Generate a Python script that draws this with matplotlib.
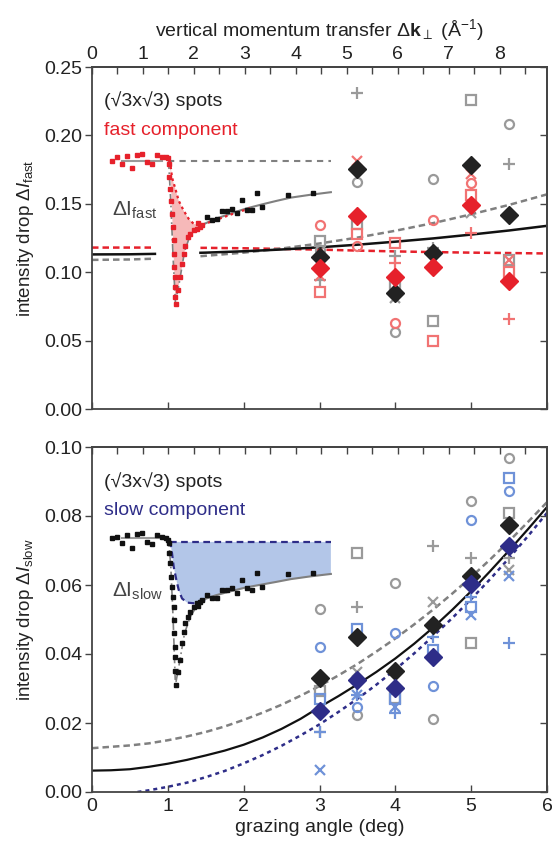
"""
Two-panel plot: intensity drop of the (sqrt3 x sqrt3) spots vs grazing angle,
fast component (top) and slow component (bottom).
"""
import numpy as np
import matplotlib
matplotlib.use("Agg")
import matplotlib.pyplot as plt

plt.rcParams['font.family'] = ['Liberation Sans', 'DejaVu Sans']
plt.rcParams['mathtext.fontset'] = 'custom'
plt.rcParams['mathtext.rm'] = 'Liberation Sans'
plt.rcParams['mathtext.it'] = 'Liberation Sans:italic'
plt.rcParams['mathtext.bf'] = 'Liberation Sans:bold'

# ---------------------------------------------------------------- data
theta = [3.0, 3.5, 4.0, 4.5, 5.0, 5.5]
nan = np.nan

# fast component (top panel)
fast_mean = [0.111, 0.1757, 0.0846, 0.1144, 0.178, 0.142]
fast_red_mean = [0.103, 0.1414, 0.0962, 0.104, 0.1494, 0.0935]
fast_gray_circle = [0.116, 0.166, 0.0561, 0.168, nan, 0.2085]
fast_gray_square = [0.1225, 0.1355, 0.090, 0.0641, 0.226, 0.109]
fast_gray_plus = [0.094, 0.231, 0.112, 0.118, nan, 0.179]
fast_gray_x = [nan, nan, 0.081, nan, 0.143, nan]
fast_red_circle = [0.1348, 0.1195, 0.0627, 0.1378, 0.1655, nan]
fast_red_square = [0.0853, 0.128, 0.121, 0.0496, 0.1567, 0.100]
fast_red_plus = [nan, nan, 0.1066, nan, 0.129, 0.0656]
fast_red_x = [0.097, 0.181, nan, nan, 0.172, 0.109]

# slow component (bottom panel)
slow_mean = [0.033, 0.045, 0.0351, 0.0484, 0.0626, 0.0774]
slow_blue_mean = [0.0235, 0.0325, 0.0302, 0.0392, 0.0603, 0.0713]
slow_gray_circle = [0.053, 0.0223, 0.0606, 0.0211, 0.0844, 0.0968]
slow_gray_square = [0.0293, 0.0693, 0.0272, nan, 0.0432, 0.0809]
slow_gray_plus = [0.0174, 0.0536, nan, 0.0713, 0.0679, 0.0678]
slow_gray_x = [nan, 0.0348, nan, 0.0551, nan, 0.0643]
slow_blue_circle = [0.042, 0.0246, 0.046, 0.0307, 0.0789, 0.0872]
slow_blue_square = [0.027, 0.0472, 0.027, 0.0412, 0.0537, 0.091]
slow_blue_plus = [0.0174, 0.028, 0.0229, 0.045, 0.0565, 0.0432]
slow_blue_x = [0.0064, 0.028, 0.0246, nan, 0.0513, 0.0626]

# fit curves, fast panel (gap where the trace sits)
fit_theta = [0, 0.5, 0.83, 1.0, 1.43, 1.5, 2, 2.5, 3, 3.5, 4, 4.5, 5, 5.5, 6]
fast_fit_black = [0.1130, 0.1131, 0.1134, 0.1136, 0.1142, 0.1143, 0.1153, 0.1166,
                  0.1182, 0.1201, 0.1223, 0.1247, 0.1275, 0.1305, 0.1339]
fast_fit_gray = [0.1090, 0.1093, 0.1099, 0.1103, 0.1117, 0.1120, 0.1143, 0.1173,
                 0.1210, 0.1253, 0.1303, 0.1359, 0.1423, 0.1492, 0.1569]
fast_fit_red = [0.1180, 0.1180, 0.1180, 0.1179, 0.1178, 0.1178, 0.1175, 0.1170,
                0.1165, 0.1158, 0.1152, 0.1147, 0.1143, 0.1140, 0.1137]

# fit curves, slow panel (read every quarter degree)
slow_theta = [0, 0.25, 0.5, 0.75, 1, 1.25, 1.5, 1.75, 2, 2.25, 2.5, 2.75, 3,
              3.25, 3.5, 3.75, 4, 4.25, 4.5, 4.75, 5, 5.25, 5.5, 5.75, 6]
slow_fit_black = [0.0062, 0.0063, 0.0066, 0.0073, 0.0082, 0.0093, 0.0106, 0.0120,
                  0.0137, 0.0158, 0.0183, 0.0212, 0.0246, 0.0278, 0.0312, 0.0348,
                  0.0387, 0.0430, 0.0477, 0.0528, 0.0582, 0.0640, 0.0700, 0.0762, 0.0826]
slow_fit_gray = [0.0127, 0.0131, 0.0135, 0.0141, 0.0150, 0.0161, 0.0174, 0.0190,
                 0.0209, 0.0230, 0.0253, 0.0279, 0.0307, 0.0338, 0.0371, 0.0407,
                 0.0445, 0.0486, 0.0529, 0.0575, 0.0623, 0.0674, 0.0727, 0.0783, 0.0840]
slow_fit_blue_theta = [0.6, 0.75, 1, 1.25, 1.5, 1.75, 2, 2.25, 2.5, 2.75, 3, 3.25,
                       3.5, 3.75, 4, 4.25, 4.5, 4.75, 5, 5.25, 5.5, 5.75, 6]
slow_fit_blue = [0.0, 0.0005, 0.0015, 0.0027, 0.0043, 0.0061, 0.0083, 0.0107,
                 0.0134, 0.0164, 0.0196, 0.0232, 0.0270, 0.0311, 0.0355, 0.0402,
                 0.0452, 0.0504, 0.0559, 0.0617, 0.0678, 0.0742, 0.0809]

# time traces drawn into the panels (same shape, two scalings)
trace_flat_x = [0.26, 0.33, 0.39, 0.46, 0.53, 0.59, 0.66, 0.72, 0.79, 0.86, 0.92, 0.97, 1.00]
trace_drop_x = [1.011, 1.020, 1.033, 1.046, 1.055, 1.068, 1.077, 1.077, 1.086, 1.099,
                1.099, 1.099, 1.113, 1.130, 1.157, 1.188, 1.209, 1.232, 1.262, 1.298,
                1.342, 1.387, 1.430, 1.40, 1.45]
trace_tail_x = [1.519, 1.585, 1.652, 1.718, 1.784, 1.850, 1.917, 1.983, 2.049, 2.115,
                2.181, 2.248, 2.579, 2.910]

fast_trace_flat = [0.1815, 0.1839, 0.1791, 0.1851, 0.1762, 0.1859, 0.1863, 0.1803,
                   0.1791, 0.1859, 0.1839, 0.1844, 0.1834]
fast_trace_drop = [0.1791, 0.1693, 0.1609, 0.1524, 0.1426, 0.1329, 0.1232, 0.1135,
                   0.1038, 0.0964, 0.0891, 0.0818, 0.0770, 0.0867, 0.0964, 0.1062,
                   0.1135, 0.1195, 0.1256, 0.1281, 0.1305, 0.1317, 0.1329, 0.1360, 0.1345]
fast_trace_tail = [0.1407, 0.1383, 0.1390, 0.1450, 0.1450, 0.1463, 0.1431, 0.1529,
                   0.1456, 0.1456, 0.1577, 0.1475, 0.1567, 0.1577]

slow_trace_flat = [0.0735, 0.0740, 0.0721, 0.0745, 0.0708, 0.0748, 0.0750, 0.0726,
                   0.0719, 0.0745, 0.0740, 0.0735, 0.0730]
slow_trace_drop = [0.0722, 0.0693, 0.0664, 0.0623, 0.0594, 0.0565, 0.0536, 0.0499,
                   0.0461, 0.0420, 0.0391, 0.0350, 0.0310, 0.0348, 0.0383, 0.0432,
                   0.0464, 0.0490, 0.0507, 0.0522, 0.0536, 0.0548, 0.0551, 0.0540, 0.0556]
slow_trace_tail = [0.0571, 0.0561, 0.0561, 0.0586, 0.0586, 0.0590, 0.0576, 0.0614,
                   0.0590, 0.0586, 0.0634, 0.0595, 0.0632, 0.0634]

# guides through the traces
dip_x = [1.01, 1.04, 1.07, 1.10, 1.15, 1.22, 1.30, 1.43]
fast_dip = [0.1815, 0.150, 0.110, 0.078, 0.092, 0.115, 0.128, 0.134]
slow_dip = [0.0735, 0.065, 0.050, 0.031, 0.037, 0.046, 0.051, 0.0555]
guide_x = [1.43, 1.63, 1.83, 2.03, 2.23, 2.43, 2.62, 2.88, 3.15]
fast_guide = [0.1341, 0.1390, 0.1429, 0.1465, 0.1494, 0.1521, 0.1545, 0.1566, 0.1585]
slow_guide = [0.0555, 0.0570, 0.0582, 0.0593, 0.0601, 0.0609, 0.0617, 0.0625, 0.0632]
fast_level = 0.1815
slow_level = 0.0737
fast_red_dot_x = [1.02, 1.033, 1.055, 1.099, 1.143, 1.209, 1.275, 1.342, 1.43, 1.85, 2.1]
fast_red_dot = [0.1815, 0.1793, 0.1693, 0.1610, 0.1523, 0.1450, 0.1390, 0.1353, 0.1341,
                0.1425, 0.147]
slow_blue_dash_x = [1.02, 1.033, 1.055, 1.077, 1.113, 1.143, 1.187, 1.254, 1.342, 1.43, 1.5]
slow_blue_dash = [0.0725, 0.0726, 0.0692, 0.0653, 0.0614, 0.0586, 0.0561, 0.0549,
                  0.0547, 0.0552, 0.0557]
slow_blue_level = 0.0725

# colours
RED = '#e6212b'
LRED = '#f17373'
GRAY = '#9a9a9a'
DGRAY = '#808080'
NAVY = '#2e2d88'
LBLUE = '#6f92d8'
BLACK = '#222222'
AXC = '#444444'

K_PER_DEG = 1.488  # vertical momentum transfer per degree


def deg_to_k(t):
    return t * K_PER_DEG


def k_to_deg(k):
    return k / K_PER_DEG


def style_panel(ax, ymax, ystep, k_labels, x_labels):
    ax.set_xlim(0, 6)
    ax.set_ylim(0, ymax)
    yt = np.arange(0, ymax + 1e-9, ystep)
    ax.set_xticks(range(7))
    ax.set_yticks(yt)
    ax.set_yticklabels([f'{v:.2f}' for v in yt])
    ax.tick_params(axis='x', direction='in', length=5, width=1, color=AXC,
                   labelsize=14, labelcolor='#222', labelbottom=x_labels, pad=4)
    ax.tick_params(axis='y', direction='out', length=5, width=1, color=AXC,
                   labelsize=14, labelcolor='#222', pad=2)
    for s in ax.spines.values():
        s.set_color(AXC)
        s.set_linewidth(1.3)

    # momentum transfer axis on top, inward ticks every half unit
    top = ax.secondary_xaxis('top', functions=(deg_to_k, k_to_deg))
    top.set_xticks(np.arange(0, 9, 1))
    top.set_xticks(np.arange(0.5, 9, 1), minor=True)
    top.tick_params(which='both', direction='in', length=5, width=1, color=AXC,
                    labelsize=14, labelcolor='#222', labeltop=k_labels, pad=3)
    top.spines['top'].set_color(AXC)
    top.spines['top'].set_linewidth(1.3)

    right = ax.secondary_yaxis('right')
    right.set_yticks(yt)
    right.tick_params(direction='in', length=5, width=1, color=AXC, labelright=False)
    right.spines['right'].set_color(AXC)
    right.spines['right'].set_linewidth(1.3)
    return top


def plot_markers(ax, gray_sets, light_sets, light_color, mean_gray, mean_light, mean_color):
    open_kw = dict(linestyle='none', mfc='none', mew=1.6, zorder=3)
    shapes = ['o', 's', '+', 'x']
    sizes = [6.5, 6.5, 9, 7.5]
    for vals, m, ms in zip(gray_sets, shapes, sizes):
        ax.plot(theta, vals, marker=m, ms=ms, mec=GRAY, color=GRAY, **open_kw)
    for vals, m, ms in zip(light_sets, shapes, sizes):
        ax.plot(theta, vals, marker=m, ms=ms, mec=light_color, color=light_color, **open_kw)
    ax.plot(theta, mean_gray, 'D', ms=9.5, color=BLACK, zorder=5)
    ax.plot(theta, mean_light, 'D', ms=9.5, color=mean_color, zorder=5)


fig = plt.figure(figsize=(5.52, 8.5), dpi=100)
ax1 = fig.add_axes([92 / 552, 1 - 409 / 850, 455 / 552, 342 / 850])
ax2 = fig.add_axes([92 / 552, 1 - 792 / 850, 455 / 552, 345 / 850])

# ---------------------------------------------------------------- top panel
top1 = style_panel(ax1, 0.25, 0.05, True, False)
top1.set_xlabel(r'vertical momentum transfer $\Delta\mathbf{k}_{\perp}$ (Å$^{-1}$)',
                fontsize=14, color='#222', labelpad=7)
ax1.set_ylabel(r'intensity drop $\Delta\mathit{I}_{\mathrm{fast}}$', fontsize=13.5,
               color='#222', labelpad=6)

ft = np.array(fit_theta)
gap = (ft > 0.83) & (ft < 1.43)
dash = dict(lw=1.8, dashes=(2.6, 1.6))
ax1.plot(ft, np.where(gap, nan, fast_fit_red), color=RED, zorder=2, **dash)
ax1.plot(ft, np.where(gap, nan, fast_fit_gray), color=DGRAY, zorder=2, **dash)
ax1.plot(ft, np.where(gap, nan, fast_fit_black), color='#111', lw=1.8, zorder=2)

# trace overlay, fast part shaded
ax1.fill(fast_red_dot_x[1:9] + dip_x[::-1][:5],
         fast_red_dot[1:9] + fast_dip[::-1][:5], color='#f6b9b9', lw=0, zorder=1)
ax1.plot([0.4, 0.92], [fast_level] * 2, color=GRAY, lw=1.5, zorder=2)
ax1.plot([1.0, 3.15], [fast_level] * 2, color=DGRAY, lw=1.5, dashes=(3, 2.5), zorder=2)
ax1.plot(dip_x, fast_dip, color=DGRAY, lw=1.2, dashes=(5, 2, 1, 2), zorder=2)
ax1.plot(guide_x, fast_guide, color=DGRAY, lw=1.5, zorder=2)
ax1.plot(fast_red_dot_x, fast_red_dot, color=RED, lw=1.6, dashes=(1.2, 1.5), zorder=2)
ax1.plot(trace_flat_x, fast_trace_flat, 's', ms=3, color=RED, zorder=3)
ax1.plot(trace_drop_x, fast_trace_drop, 's', ms=3, color=RED, zorder=3)
ax1.plot(trace_tail_x, fast_trace_tail, 's', ms=3, color='#111', zorder=3)

plot_markers(ax1, [fast_gray_circle, fast_gray_square, fast_gray_plus, fast_gray_x],
             [fast_red_circle, fast_red_square, fast_red_plus, fast_red_x],
             LRED, fast_mean, fast_red_mean, RED)

ax1.text(0.16, 0.2252, '(√3x√3) spots', fontsize=14, color='#222', va='center')
ax1.text(0.16, 0.2034, 'fast component', fontsize=14, color=RED, va='center')
ax1.text(0.265, 0.1414, r'$\Delta\mathrm{I}_{\mathrm{fast}}$', fontsize=15,
         color='#444', va='baseline')

# ---------------------------------------------------------------- bottom panel
style_panel(ax2, 0.10, 0.02, False, True)
ax2.set_xlabel('grazing angle (deg)', fontsize=14, color='#222', labelpad=3)
ax2.set_ylabel(r'intensity drop $\Delta\mathit{I}_{\mathrm{slow}}$', fontsize=13.5,
               color='#222', labelpad=6)

ax2.plot(slow_theta, slow_fit_gray, color=DGRAY, zorder=2, **dash)
ax2.plot(slow_fit_blue_theta, slow_fit_blue, color=NAVY, lw=1.8, dashes=(1.6, 1.6), zorder=2)
ax2.plot(slow_theta, slow_fit_black, color='#111', lw=1.6, zorder=2)

# trace overlay, slow part shaded
fill_x = [slow_blue_dash_x[1], 3.15] + guide_x[::-1] + slow_blue_dash_x[::-1][:-1]
fill_y = [slow_blue_level, slow_blue_level] + slow_guide[::-1] + slow_blue_dash[::-1][:-1]
ax2.fill(fill_x, fill_y, color='#b3c6e8', lw=0, zorder=1)
ax2.plot([0.4, 0.92], [slow_level] * 2, color=GRAY, lw=1.5, zorder=2)
ax2.plot([1.03, 3.15], [slow_blue_level] * 2, color=NAVY, lw=1.6, dashes=(3, 2), zorder=2)
ax2.plot(slow_blue_dash_x, slow_blue_dash, color=NAVY, lw=1.6, dashes=(3, 2), zorder=2)
ax2.plot(dip_x, slow_dip, color=DGRAY, lw=1.2, dashes=(5, 2, 1, 2), zorder=2)
ax2.plot(guide_x, slow_guide, color=DGRAY, lw=1.5, zorder=2)
ax2.plot(trace_flat_x, slow_trace_flat, 's', ms=3, color='#111', zorder=3)
ax2.plot(trace_drop_x, slow_trace_drop, 's', ms=3, color='#111', zorder=3)
ax2.plot(trace_tail_x, slow_trace_tail, 's', ms=3, color='#111', zorder=3)

plot_markers(ax2, [slow_gray_circle, slow_gray_square, slow_gray_plus, slow_gray_x],
             [slow_blue_circle, slow_blue_square, slow_blue_plus, slow_blue_x],
             LBLUE, slow_mean, slow_blue_mean, NAVY)

ax2.text(0.16, 0.0899, '(√3x√3) spots', fontsize=14, color='#222', va='center')
ax2.text(0.16, 0.0817, 'slow component', fontsize=14, color=NAVY, va='center')
ax2.text(0.265, 0.0565, r'$\Delta\mathrm{I}_{\mathrm{slow}}$', fontsize=15,
         color='#444', va='baseline')

fig.align_ylabels([ax1, ax2])
plt.savefig('out.png', dpi=100)
